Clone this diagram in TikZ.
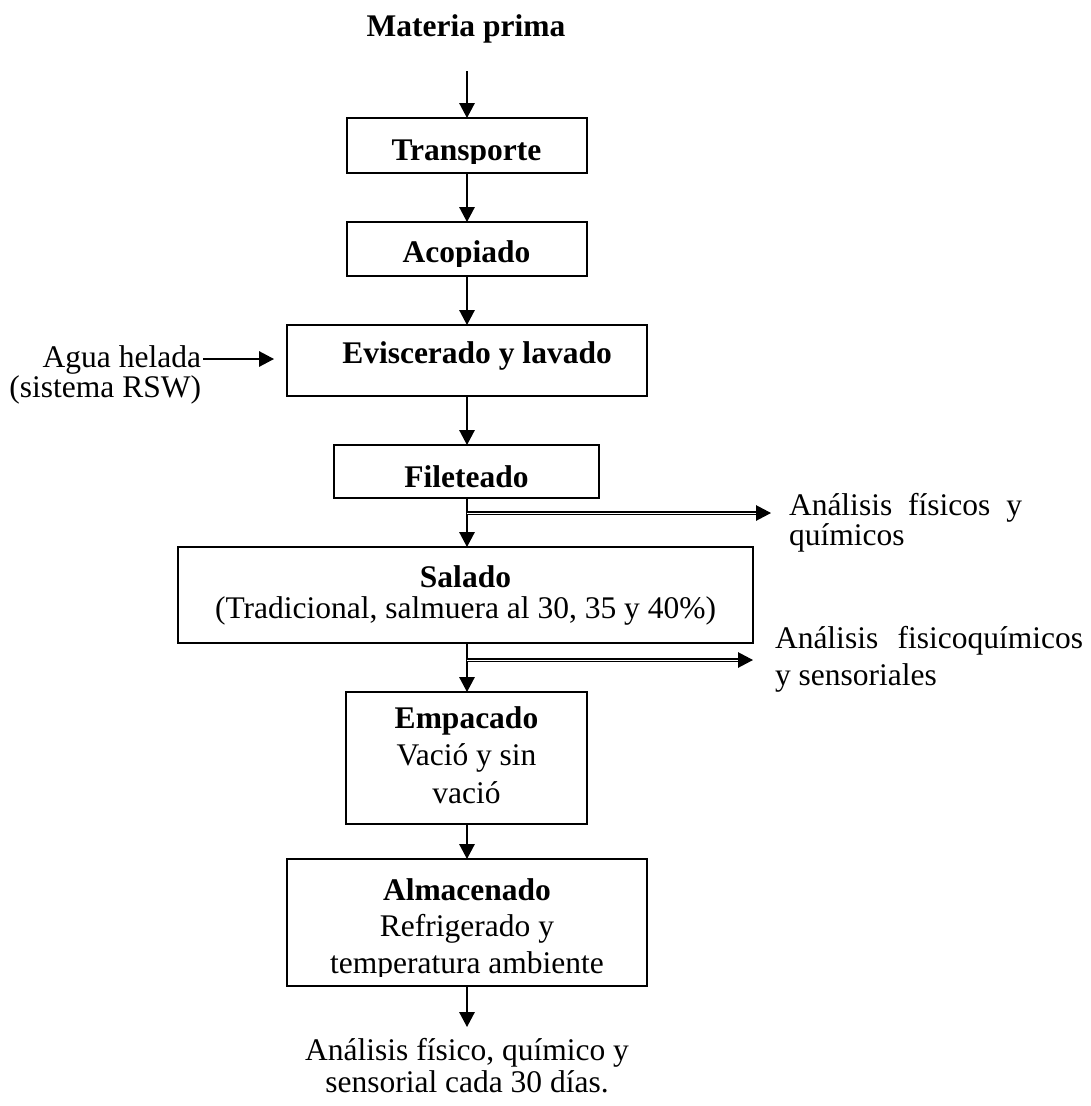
\documentclass[tikz,border=0pt]{standalone}
\usepackage{fontspec}
\setmainfont{Liberation Serif}
\usetikzlibrary{arrows.meta}
% text size used throughout the chart, with a chosen line spacing
\newcommand\txtsize[1]{\fontsize{31.5}{#1}\selectfont}

\begin{document}
\begin{tikzpicture}[x=1pt,y=-1pt,
  box/.style={draw, line width=2.3pt, inner sep=0pt, outer sep=0pt},
  flow/.style={line width=1.5pt, -{Triangle[length=15pt,width=15.5pt]}},
  branch/.style={double, double distance=0.7pt, line width=1.2pt, -{Triangle[length=15pt,width=15.5pt]}},
  lbl/.style={anchor=base, inner sep=0pt, outer sep=0pt, font=\txtsize{36}},
]
\useasboundingbox (0,0) rectangle (1091,1106);

% process boxes
\node[box, minimum width=240, minimum height=55]  (trans) at (467,145.5) {};
\node[box, minimum width=240, minimum height=54]  (acop)  at (467,249)   {};
\node[box, minimum width=360, minimum height=71]  (evis)  at (467,360.5) {};
\node[box, minimum width=265, minimum height=53]  (filet) at (466.5,471.5) {};
\node[box, minimum width=575, minimum height=96]  (sal)   at (465.5,595) {};
\node[box, minimum width=241, minimum height=132] (emp)   at (466.5,758) {};
\node[box, minimum width=360, minimum height=127] (alm)   at (467,922.5) {};

% labels
\node[lbl] (mp) at (466,36) {\textbf{Materia prima}};
\begin{scope}
  \clip (348,119) rectangle (586,163);
  \node[lbl] (tTrans) at (466.5,160) {\textbf{Transporte}};
\end{scope}
\begin{scope}
  \clip (348,223) rectangle (586,266);
  \node[lbl] (tAcop) at (466.5,262) {\textbf{Acopiado}};
\end{scope}
\node[lbl] (tEvis) at (477,363) {\textbf{Eviscerado y lavado}};
\node[lbl] (tFilet) at (466.5,487) {\textbf{Fileteado}};
\node[lbl] (tSal) at (465.5,587)
  {\txtsize{31}\begin{tabular}[t]{@{}c@{}}\textbf{Salado}\\(Tradicional, salmuera al 30, 35 y 40\%)\end{tabular}};
\node[lbl] (tEmp) at (466.5,728)
  {\txtsize{37.5}\begin{tabular}[t]{@{}c@{}}\textbf{Empacado}\\Vació y sin\\vació\end{tabular}};
\begin{scope}
  \clip (288,860) rectangle (646,976);
  \node[lbl] (tAlm) at (467,900)
    {\txtsize{36.5}\begin{tabular}[t]{@{}c@{}}\textbf{Almacenado}\\Refrigerado y\\temperatura ambiente\end{tabular}};
\end{scope}
\node[lbl, anchor=base east] (agua) at (201,367)
  {\txtsize{28}\begin{tabular}[t]{@{}r@{}}Agua helada\\(sistema RSW)\end{tabular}};
\node[lbl, anchor=base west] (an1) at (789,515)
  {\txtsize{30}\begin{tabular}[t]{@{}l@{}}\makebox[233pt][s]{Análisis físicos y}\\químicos\end{tabular}};
\node[lbl, anchor=base west] (an2) at (775,648)
  {\txtsize{37}\begin{tabular}[t]{@{}l@{}}\makebox[308pt][s]{Análisis fisicoquímicos}\\y sensoriales\end{tabular}};
\node[lbl] (fin) at (467,1060)
  {\txtsize{32}\begin{tabular}[t]{@{}c@{}}Análisis físico, químico y\\sensorial cada 30 días.\end{tabular}};

% connector end points
\coordinate (mpArrow) at (467,71);
\coordinate (finArrow) at (467,1027);
\coordinate (aguaStart) at (203,359);
\coordinate (aguaEnd) at (274,359);
\coordinate (b1s) at (467,513);
\coordinate (b1e) at (771,513);
\coordinate (b2s) at (467,660);
\coordinate (b2e) at (753,660);

% main flow
\draw[flow] (mpArrow) -- (mpArrow |- trans.north);
\draw[flow] (trans.south) -- (trans.south |- acop.north);
\draw[flow] (acop.south) -- (acop.south |- evis.north);
\draw[flow] (evis.south) -- (evis.south |- filet.north);
\draw[flow] (evis.south |- filet.south) -- (evis.south |- sal.north);
\draw[flow] (evis.south |- sal.south) -- (evis.south |- emp.north);
\draw[flow] (evis.south |- emp.south) -- (evis.south |- alm.north);
\draw[flow] (evis.south |- alm.south) -- (finArrow);

% side inputs and outputs
\draw[flow] (aguaStart) -- (aguaEnd);
\draw[branch] (b1s) -- (b1e);
\draw[branch] (b2s) -- (b2e);
\end{tikzpicture}
\end{document}
